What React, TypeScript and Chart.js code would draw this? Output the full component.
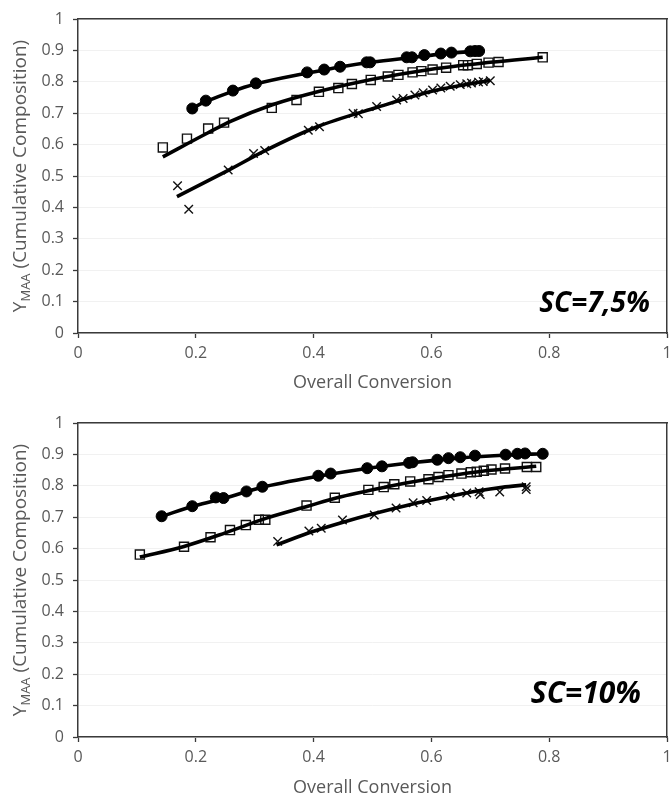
import React, { useEffect, useRef } from "react";
import { Chart, registerables } from "chart.js";

Chart.register(...registerables);

// ---------- tick labels ----------
const xTickLabels = ["0", "0.2", "0.4", "0.6", "0.8", "1"];
const yTickLabels = ["0", "0.1", "0.2", "0.3", "0.4", "0.5", "0.6", "0.7", "0.8", "0.9", "1"];

// ---------- SC = 7,5 % (top) ----------
const topCircleX = [0.194, 0.217, 0.263, 0.302, 0.389, 0.418, 0.445, 0.490, 0.496, 0.558, 0.567, 0.588, 0.616, 0.634, 0.666, 0.674, 0.681];
const topCircleY = [0.715, 0.740, 0.772, 0.795, 0.830, 0.839, 0.848, 0.862, 0.862, 0.878, 0.878, 0.885, 0.890, 0.893, 0.897, 0.898, 0.898];
const topCircleFitX = [0.194, 0.22, 0.26, 0.30, 0.39, 0.45, 0.50, 0.57, 0.62, 0.681];
const topCircleFitY = [0.717, 0.739, 0.768, 0.792, 0.828, 0.849, 0.863, 0.878, 0.889, 0.898];

const topSquareX = [0.144, 0.185, 0.221, 0.248, 0.329, 0.371, 0.409, 0.442, 0.465, 0.497, 0.526, 0.544, 0.568, 0.583, 0.602, 0.625, 0.654, 0.662, 0.677, 0.697, 0.714, 0.789];
const topSquareY = [0.591, 0.619, 0.651, 0.670, 0.717, 0.742, 0.768, 0.780, 0.793, 0.806, 0.817, 0.822, 0.830, 0.834, 0.839, 0.845, 0.853, 0.853, 0.857, 0.861, 0.863, 0.878];
const topSquareFitX = [0.144, 0.22, 0.26, 0.33, 0.41, 0.50, 0.60, 0.70, 0.789];
const topSquareFitY = [0.561, 0.637, 0.675, 0.727, 0.770, 0.808, 0.840, 0.862, 0.878];

const topCrossX = [0.169, 0.188, 0.255, 0.298, 0.317, 0.391, 0.410, 0.467, 0.476, 0.507, 0.541, 0.552, 0.572, 0.586, 0.602, 0.616, 0.632, 0.649, 0.660, 0.668, 0.680, 0.688, 0.700];
const topCrossY = [0.469, 0.394, 0.519, 0.572, 0.581, 0.646, 0.657, 0.700, 0.698, 0.721, 0.742, 0.747, 0.758, 0.765, 0.774, 0.780, 0.786, 0.791, 0.794, 0.796, 0.799, 0.801, 0.803];
const topCrossFitX = [0.168, 0.255, 0.317, 0.405, 0.507, 0.606, 0.700];
const topCrossFitY = [0.434, 0.518, 0.580, 0.656, 0.718, 0.772, 0.805];

// ---------- SC = 10 % (bottom) ----------
const botCircleX = [0.142, 0.194, 0.234, 0.247, 0.286, 0.313, 0.408, 0.429, 0.491, 0.516, 0.562, 0.568, 0.610, 0.629, 0.649, 0.674, 0.726, 0.746, 0.759, 0.789];
const botCircleY = [0.703, 0.735, 0.763, 0.761, 0.782, 0.797, 0.832, 0.839, 0.856, 0.862, 0.873, 0.875, 0.883, 0.888, 0.891, 0.896, 0.899, 0.902, 0.903, 0.902];
const botCircleFitX = [0.142, 0.20, 0.25, 0.31, 0.41, 0.49, 0.57, 0.65, 0.73, 0.789];
const botCircleFitY = [0.703, 0.737, 0.761, 0.794, 0.831, 0.855, 0.874, 0.889, 0.898, 0.902];

const botSquareX = [0.105, 0.180, 0.225, 0.258, 0.285, 0.307, 0.318, 0.388, 0.436, 0.493, 0.519, 0.537, 0.564, 0.595, 0.612, 0.629, 0.651, 0.667, 0.677, 0.689, 0.702, 0.725, 0.762, 0.778];
const botSquareY = [0.581, 0.606, 0.636, 0.659, 0.675, 0.692, 0.692, 0.737, 0.762, 0.787, 0.796, 0.805, 0.814, 0.821, 0.828, 0.834, 0.839, 0.843, 0.845, 0.848, 0.852, 0.855, 0.860, 0.860];
const botSquareFitX = [0.105, 0.18, 0.25, 0.32, 0.39, 0.44, 0.52, 0.60, 0.68, 0.778];
const botSquareFitY = [0.573, 0.607, 0.650, 0.697, 0.735, 0.762, 0.795, 0.823, 0.845, 0.862];

const botCrossX = [0.339, 0.392, 0.413, 0.449, 0.503, 0.540, 0.569, 0.592, 0.632, 0.660, 0.681, 0.683, 0.716, 0.761, 0.761];
const botCrossY = [0.623, 0.656, 0.665, 0.691, 0.707, 0.729, 0.746, 0.753, 0.767, 0.777, 0.781, 0.772, 0.780, 0.797, 0.788];
const botCrossFitX = [0.337, 0.40, 0.45, 0.50, 0.57, 0.63, 0.68, 0.72, 0.761];
const botCrossFitY = [0.612, 0.655, 0.684, 0.710, 0.743, 0.766, 0.784, 0.795, 0.803];

const xTitle = "Overall Conversion";
const yTitleMain = "Y";
const yTitleSub = "MAA";
const yTitleRest = " (Cumulative Composition)";

// ---------- styling ----------
const FONT = '"Open Sans", sans-serif';
const TEXT_COLOR = "#595959";
const AXIS_COLOR = "#3a3a3a";

const pts = (xs: number[], ys: number[]) => xs.map((x, i) => ({ x, y: ys[i] }));

const fitDs = (xs: number[], ys: number[]) => ({
  data: pts(xs, ys),
  showLine: true,
  pointRadius: 0,
  pointHoverRadius: 0,
  borderColor: "#000",
  borderWidth: 3.6,
  cubicInterpolationMode: "monotone" as const,
  fill: false,
  order: 0,
});

const markerDs = (xs: number[], ys: number[], style: string) => {
  const base: any = {
    data: pts(xs, ys),
    showLine: false,
    order: 1,
    pointStyle: style,
  };
  if (style === "circle") {
    return { ...base, pointRadius: 5.5, backgroundColor: "#000", borderColor: "#000", borderWidth: 1 };
  }
  if (style === "rect") {
    return { ...base, pointRadius: 6.4, backgroundColor: "rgba(0,0,0,0)", borderColor: "#111", borderWidth: 1.4 };
  }
  return { ...base, pointRadius: 6, backgroundColor: "rgba(0,0,0,0)", borderColor: "#111", borderWidth: 1.4 };
};

type PanelProps = {
  series: { cx: number[]; cy: number[]; cfx: number[]; cfy: number[]; sx: number[]; sy: number[]; sfx: number[]; sfy: number[]; xx: number[]; xy: number[]; xfx: number[]; xfy: number[] };
  label: string;
  labelSize: number;
  labelRight: number;
  labelY: number;
  topH: number;
  xAxisH: number;
  titlePad: number;
  tickPad: number;
};

function Panel(p: PanelProps) {
  const ref = useRef<HTMLCanvasElement | null>(null);
  useEffect(() => {
    if (!ref.current) return;
    const s = p.series;
    const overlay = {
      id: "overlay",
      afterDraw(chart: any) {
        const { ctx, chartArea } = chart;
        ctx.save();
        // y-axis title with subscript
        const cy = (chartArea.top + chartArea.bottom) / 2;
        ctx.translate(26, cy);
        ctx.rotate(-Math.PI / 2);
        const big = `19px ${FONT}`;
        const small = `13px ${FONT}`;
        ctx.font = big;
        const wY = ctx.measureText(yTitleMain).width;
        const wR = ctx.measureText(yTitleRest).width;
        ctx.font = small;
        const wS = ctx.measureText(yTitleSub).width;
        let x = -(wY + wS + wR) / 2;
        ctx.fillStyle = TEXT_COLOR;
        ctx.textAlign = "left";
        ctx.textBaseline = "alphabetic";
        ctx.font = big;
        ctx.fillText(yTitleMain, x, 0);
        x += wY;
        ctx.font = small;
        ctx.fillText(yTitleSub, x, 4);
        x += wS;
        ctx.font = big;
        ctx.fillText(yTitleRest, x, 0);
        ctx.restore();

        // SC label
        ctx.save();
        ctx.font = `italic bold ${p.labelSize}px ${FONT}`;
        ctx.fillStyle = "#000";
        ctx.textAlign = "right";
        ctx.textBaseline = "middle";
        ctx.fillText(p.label, p.labelRight, p.labelY);
        ctx.restore();
      },
    };

    const chart = new Chart(ref.current, {
      type: "scatter",
      data: {
        datasets: [
          fitDs(s.cfx, s.cfy),
          fitDs(s.sfx, s.sfy),
          fitDs(s.xfx, s.xfy),
          markerDs(s.cx, s.cy, "circle"),
          markerDs(s.sx, s.sy, "rect"),
          markerDs(s.xx, s.xy, "crossRot"),
        ] as any,
      },
      options: {
        animation: false,
        responsive: false,
        devicePixelRatio: 1,
        layout: { padding: 0 },
        plugins: { legend: { display: false }, tooltip: { enabled: false }, title: { display: false } },
        scales: {
          x: {
            type: "linear",
            position: "bottom",
            min: 0,
            max: 1,
            ticks: {
              stepSize: 0.2,
              color: TEXT_COLOR,
              font: { family: FONT, size: 16 },
              padding: p.tickPad,
              maxRotation: 0,
              autoSkip: false,
              callback: (_v: any, i: number) => xTickLabels[i] ?? "",
            },
            grid: { display: true, drawOnChartArea: false, drawTicks: true, tickLength: 5, tickColor: AXIS_COLOR, tickWidth: 1.3 },
            border: { display: true, color: AXIS_COLOR, width: 1.5 },
            title: { display: true, text: xTitle, color: TEXT_COLOR, font: { family: FONT, size: 18 }, padding: { top: 0, bottom: p.titlePad } },
            afterFit: (sc: any) => {
              sc.height = p.xAxisH;
            },
          },
          y: {
            type: "linear",
            position: "left",
            min: 0,
            max: 1,
            ticks: {
              stepSize: 0.1,
              color: TEXT_COLOR,
              font: { family: FONT, size: 16 },
              padding: 9,
              autoSkip: false,
              callback: (_v: any, i: number) => yTickLabels[i] ?? "",
            },
            grid: { display: true, drawOnChartArea: true, color: "#f1f1f1", drawTicks: true, tickLength: 5, tickColor: AXIS_COLOR, tickWidth: 1.3 },
            border: { display: true, color: AXIS_COLOR, width: 1.5 },
            afterFit: (sc: any) => {
              sc.width = 78;
            },
          },
          x2: {
            type: "linear",
            position: "top",
            min: 0,
            max: 1,
            ticks: { display: false },
            grid: { display: false },
            border: { display: true, color: AXIS_COLOR, width: 1.5 },
            afterFit: (sc: any) => {
              sc.height = p.topH;
            },
          },
          y2: {
            type: "linear",
            position: "right",
            min: 0,
            max: 1,
            ticks: { display: false },
            grid: { display: false },
            border: { display: true, color: AXIS_COLOR, width: 1.5 },
            afterFit: (sc: any) => {
              sc.width = 13;
            },
          },
        },
      } as any,
      plugins: [overlay],
    });
    return () => chart.destroy();
  }, []);
  return <canvas ref={ref} width={680} height={400} style={{ display: "block", width: 680, height: 400 }} />;
}

export default function App() {
  return (
    <div style={{ position: "absolute", left: 0, top: 0, width: 669, height: 800, overflow: "hidden", background: "#fff" }}>
      <Panel
        series={{
          cx: topCircleX, cy: topCircleY, cfx: topCircleFitX, cfy: topCircleFitY,
          sx: topSquareX, sy: topSquareY, sfx: topSquareFitX, sfy: topSquareFitY,
          xx: topCrossX, xy: topCrossY, xfx: topCrossFitX, xfy: topCrossFitY,
        }}
        label="SC=7,5%"
        labelSize={28}
        labelRight={650}
        labelY={304}
        topH={19}
        xAxisH={67}
        titlePad={6}
        tickPad={6}
      />
      <Panel
        series={{
          cx: botCircleX, cy: botCircleY, cfx: botCircleFitX, cfy: botCircleFitY,
          sx: botSquareX, sy: botSquareY, sfx: botSquareFitX, sfy: botSquareFitY,
          xx: botCrossX, xy: botCrossY, xfx: botCrossFitX, xfy: botCrossFitY,
        }}
        label="SC=10%"
        labelSize={30}
        labelRight={641}
        labelY={294}
        topH={23}
        xAxisH={63}
        titlePad={1}
        tickPad={6}
      />
    </div>
  );
}
